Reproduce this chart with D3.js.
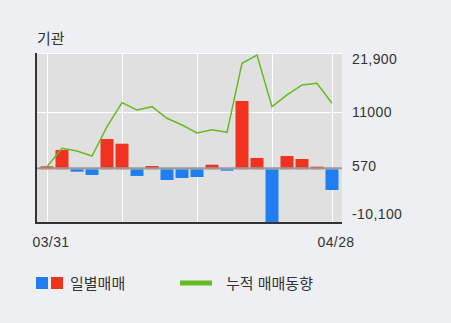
<!DOCTYPE html>
<html lang="ko">
<head>
<meta charset="utf-8">
<script src="https://d3js.org/d3.v7.min.js"></script>
<style>
body { margin: 0; background: #eeeff3; }
svg { display: block; font-family: "Liberation Sans", "Noto Sans CJK KR", sans-serif; }
.lbl { font-size: 14px; fill: #333; }
</style>
</head>
<body>
<svg width="451" height="323"></svg>
<script>
// trading days 03/31 - 04/28
var dates = ["03/31","04/01","04/02","04/03","04/06","04/07","04/08","04/09","04/10",
  "04/13","04/14","04/16","04/17","04/20","04/21","04/22","04/23","04/24","04/27","04/28"];
// daily net trades (bars)
var daily = [570, 3700, -460, -1090, 5800, 4900, -1280, 630, -2050, -1670,
  -1480, 880, -270, 13090, 2170, -10100, 2550, 1970, 500, -3970];
// cumulative trend (line)
var cumul = [500, 4020, 3500, 2550, 8160, 12760, 11360, 12000, 9770, 8490,
  6960, 7590, 7090, 20310, 21900, 12000, 14240, 16160, 16480, 12650];
var tickVals = [21900, 11000, 570, -10100];
var tickLabels = ["21,900", "11000", "570", "-10,100"];
var gridIdx = [0, 5, 10, 15, 19];

var svg = d3.select("svg");
var pL = 36, pR = 342, pT = 53, pB = 223;

var x = d3.scaleLinear().domain([0, dates.length - 1]).range([47, 332]);
var y = d3.scaleLinear().domain([-10100, 21900]).range([222, 55]);
var barW = 13;

// title
svg.append("text").attr("class", "lbl").attr("x", 37).attr("y", 44)
  .style("font-size", "15px").text("기관");

// plot background
svg.append("rect").attr("x", pL).attr("y", pT)
  .attr("width", pR - pL).attr("height", pB - pT).attr("fill", "#e0e0e0");

// grid
svg.selectAll(".vg").data(gridIdx).enter().append("line")
  .attr("x1", function(d) { return Math.round(x(d)) + 0.5; })
  .attr("x2", function(d) { return Math.round(x(d)) + 0.5; })
  .attr("y1", pT).attr("y2", pB)
  .attr("stroke", "#fff").attr("stroke-width", 1);
svg.selectAll(".hg").data([21900, 11000]).enter().append("line")
  .attr("x1", pL).attr("x2", pR)
  .attr("y1", function(d, i) { return i == 0 ? pT + 0.5 : Math.round(y(d)) + 0.5; })
  .attr("y2", function(d, i) { return i == 0 ? pT + 0.5 : Math.round(y(d)) + 0.5; })
  .attr("stroke", "#fff").attr("stroke-width", 1);

// bars
svg.selectAll(".bar").data(daily).enter().append("rect")
  .attr("x", function(d, i) { return x(i) - barW / 2; })
  .attr("y", function(d) { return d >= 0 ? y(d) : y(0); })
  .attr("width", barW)
  .attr("height", function(d) { return Math.abs(y(d) - y(0)); })
  .attr("fill", function(d) { return d >= 0 ? "#f0321e" : "#1f7ef0"; });

// zero line
svg.append("line").attr("x1", pL).attr("x2", pR)
  .attr("y1", y(0) - 1).attr("y2", y(0) - 1)
  .attr("stroke", "#999").attr("stroke-width", 2);

// cumulative line
svg.append("path").datum(cumul)
  .attr("fill", "none").attr("stroke", "#66bb22").attr("stroke-width", 1.5)
  .attr("d", d3.line().x(function(d, i) { return x(i); }).y(function(d) { return y(d); }));

// axes
svg.append("line").attr("x1", pL).attr("x2", pL).attr("y1", pT).attr("y2", pB + 1)
  .attr("stroke", "#333").attr("stroke-width", 2);
svg.append("line").attr("x1", pL).attr("x2", pR).attr("y1", pB).attr("y2", pB)
  .attr("stroke", "#333").attr("stroke-width", 2);

// y labels
svg.selectAll(".yl").data(tickVals).enter().append("text")
  .attr("class", "lbl").attr("x", 352)
  .attr("y", function(d) { return Math.max(59, Math.min(214, y(d))); })
  .attr("dy", "0.36em")
  .style("letter-spacing", "0.4px")
  .text(function(d, i) { return tickLabels[i]; });

// x labels
svg.selectAll(".xl").data([0, dates.length - 1]).enter().append("text")
  .attr("class", "lbl").attr("x", function(d) { return x(d) + 4; }).attr("y", 247)
  .attr("text-anchor", "middle")
  .style("letter-spacing", "0.4px")
  .text(function(d) { return dates[d]; });

// legend
svg.append("rect").attr("x", 36).attr("y", 277).attr("width", 12).attr("height", 12).attr("fill", "#1f7ef0");
svg.append("rect").attr("x", 51).attr("y", 277).attr("width", 12).attr("height", 12).attr("fill", "#f0321e");
svg.append("text").attr("class", "lbl").attr("x", 70).attr("y", 289)
  .style("font-size", "15px").text("일별매매");
svg.append("line").attr("x1", 180).attr("x2", 212).attr("y1", 283).attr("y2", 283)
  .attr("stroke", "#66bb22").attr("stroke-width", 5);
svg.append("text").attr("class", "lbl").attr("x", 226).attr("y", 289)
  .style("font-size", "15px").text("누적 매매동향");
</script>
</body>
</html>
